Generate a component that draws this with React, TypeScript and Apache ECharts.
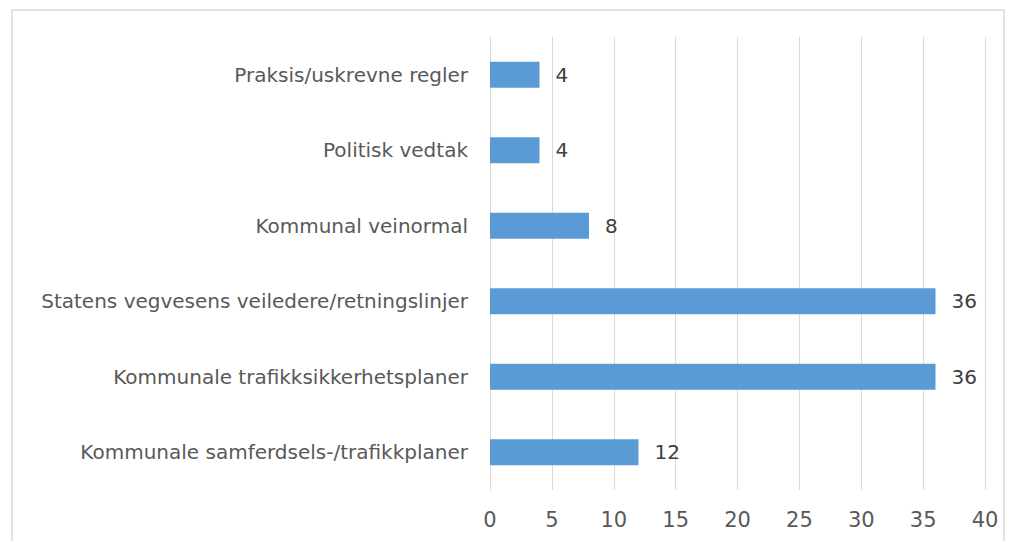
import React, { useEffect, useRef } from "react";
import * as echarts from "echarts";

const categories = [
  "Kommunale samferdsels-/trafikkplaner",
  "Kommunale trafikksikkerhetsplaner",
  "Statens vegvesens veiledere/retningslinjer",
  "Kommunal veinormal",
  "Politisk vedtak",
  "Praksis/uskrevne regler",
];
const values = [12, 36, 36, 8, 4, 4];
const xMin = 0;
const xMax = 40;
const xInterval = 5;

export default function App() {
  const ref = useRef<HTMLDivElement>(null);
  useEffect(() => {
    document.body.style.margin = "0";
    const chart = echarts.init(ref.current!, null, { renderer: "svg" });
    const font = "DejaVu Sans";
    chart.setOption({
      animation: false,
      backgroundColor: "#ffffff",
      graphic: [
        {
          type: "rect",
          shape: { x: 12, y: 10, width: 992, height: 545 },
          style: { fill: "none", stroke: "#d9d9d9", lineWidth: 1.5 },
          silent: true,
        },
      ],
      grid: { left: 490, right: 30, top: 37, bottom: 51, containLabel: false },
      xAxis: {
        type: "value",
        min: xMin,
        max: xMax,
        interval: xInterval,
        axisLine: { show: false },
        axisTick: { show: false },
        axisLabel: { color: "#595959", fontSize: 21, fontFamily: font, margin: 19 },
        splitLine: { show: true, lineStyle: { color: "#d9d9d9", width: 1 } },
      },
      yAxis: {
        type: "category",
        data: categories,
        axisLine: { show: true, lineStyle: { color: "#d9d9d9" } },
        axisTick: { show: false },
        axisLabel: { color: "#595959", fontSize: 20, fontFamily: font, margin: 22 },
      },
      series: [
        {
          type: "bar",
          data: values,
          barWidth: 26,
          itemStyle: { color: "#5b9bd5" },
          label: {
            show: true,
            position: "right",
            distance: 16,
            color: "#404040",
            fontSize: 20,
            fontFamily: font,
          },
        },
      ],
    });
    return () => chart.dispose();
  }, []);
  return <div ref={ref} style={{ width: 1015, height: 541 }} />;
}
